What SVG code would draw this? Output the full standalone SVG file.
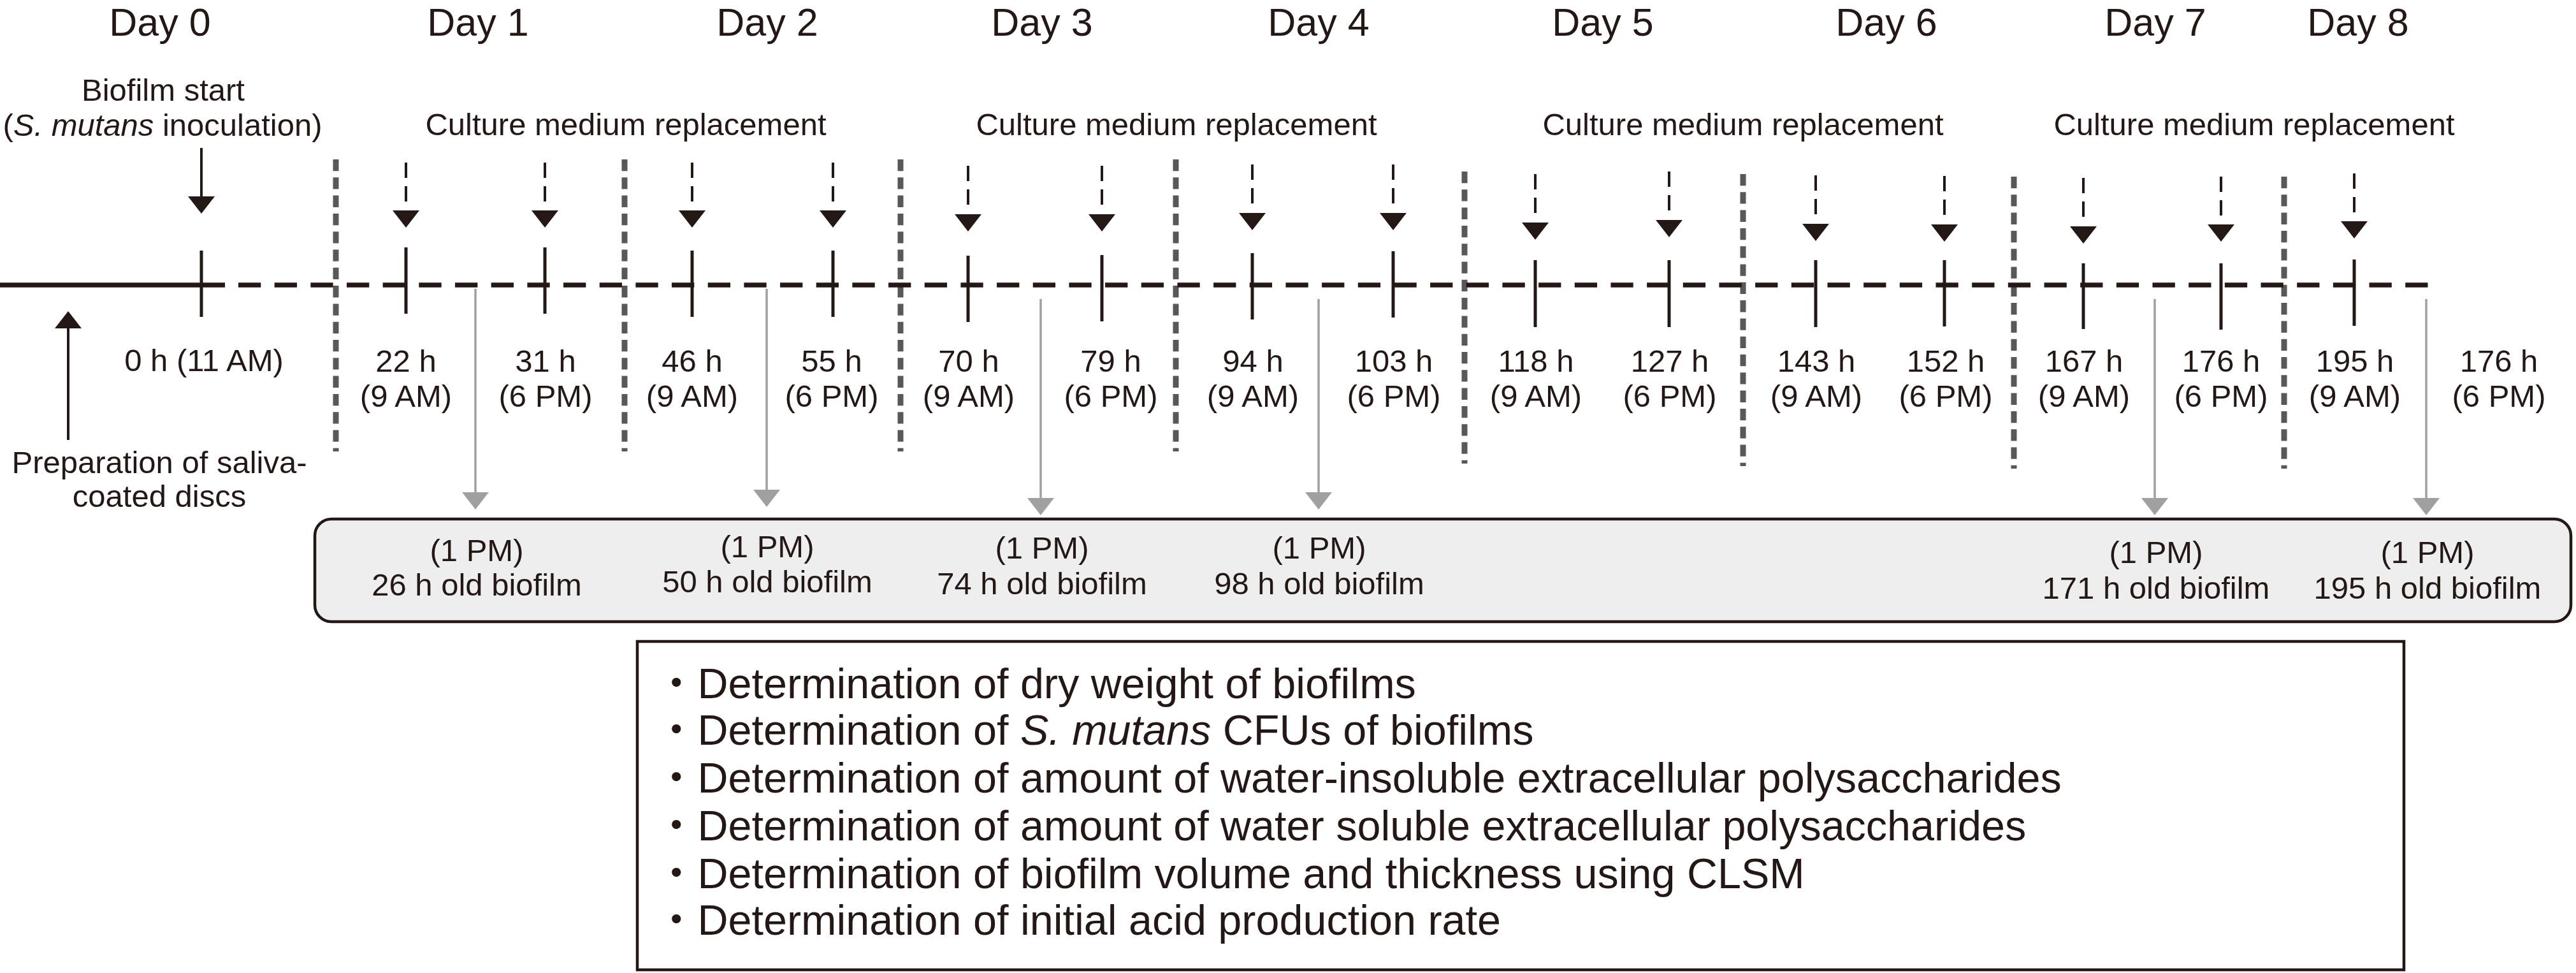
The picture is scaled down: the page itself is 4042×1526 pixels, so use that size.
<svg xmlns="http://www.w3.org/2000/svg" xmlns:xlink="http://www.w3.org/1999/xlink" width="4042" height="1526" viewBox="0 0 4042 1526">
<style>
.t{font-family:"Liberation Sans",Arial,"Noto Sans CJK JP",sans-serif;fill:#231815}
.day{font-size:61px;text-anchor:middle}
.lbl{font-size:49px;text-anchor:middle}
.lst{font-size:66.5px}
.it{font-style:italic}
.tick{stroke:#231815;stroke-width:5}
.sep{stroke:#595757;stroke-width:9;stroke-dasharray:18.3 10}
.rep{stroke:#231815;stroke-width:4;stroke-dasharray:24 13}
.solid{stroke:#231815;stroke-width:4}
.gray{stroke:#9fa0a0;stroke-width:3.5}
.main{stroke:#231815;stroke-width:7.5}
</style>
<defs>
<path id="hb" d="M-21,0 L21,0 L0,27 Z" fill="#231815"/>
<path id="hu" d="M-21,0 L21,0 L0,-27 Z" fill="#231815"/>
<path id="hg" d="M-21,0 L21,0 L0,27 Z" fill="#9fa0a0"/>
</defs>
<rect width="4042" height="1526" fill="#ffffff"/>

<g id="days" class="t day">
<text x="251" y="56">Day 0</text>
<text x="750" y="56">Day 1</text>
<text x="1204" y="56">Day 2</text>
<text x="1635" y="56">Day 3</text>
<text x="2069" y="56">Day 4</text>
<text x="2515" y="56">Day 5</text>
<text x="2960" y="56">Day 6</text>
<text x="3382" y="56">Day 7</text>
<text x="3700" y="56">Day 8</text>
</g>

<g id="biofilm-start" class="t lbl">
<text x="256" y="158">Biofilm start</text>
<text x="255" y="213">(<tspan class="it">S. mutans</tspan> inoculation)</text>
</g>

<g id="replacement-labels" class="t lbl">
<text x="982" y="212">Culture medium replacement</text>
<text x="1846" y="212">Culture medium replacement</text>
<text x="2735" y="212">Culture medium replacement</text>
<text x="3537" y="212">Culture medium replacement</text>
</g>

<g id="preparation" class="t lbl">
<text x="250" y="742">Preparation of saliva-</text>
<text x="250" y="795">coated discs</text>
</g>

<g id="time-labels" class="t lbl">
<text x="320" y="582">0 h (11 AM)</text>
<text x="637" y="583">22 h</text><text x="637" y="638">(9 AM)</text>
<text x="856" y="583">31 h</text><text x="856" y="638">(6 PM)</text>
<text x="1086" y="583">46 h</text><text x="1086" y="638">(9 AM)</text>
<text x="1305" y="583">55 h</text><text x="1305" y="638">(6 PM)</text>
<text x="1520" y="583">70 h</text><text x="1520" y="638">(9 AM)</text>
<text x="1743" y="583">79 h</text><text x="1743" y="638">(6 PM)</text>
<text x="1966" y="583">94 h</text><text x="1966" y="638">(9 AM)</text>
<text x="2187" y="583">103 h</text><text x="2187" y="638">(6 PM)</text>
<text x="2410" y="583">118 h</text><text x="2410" y="638">(9 AM)</text>
<text x="2620" y="583">127 h</text><text x="2620" y="638">(6 PM)</text>
<text x="2850" y="583">143 h</text><text x="2850" y="638">(9 AM)</text>
<text x="3053" y="583">152 h</text><text x="3053" y="638">(6 PM)</text>
<text x="3270" y="583">167 h</text><text x="3270" y="638">(9 AM)</text>
<text x="3485" y="583">176 h</text><text x="3485" y="638">(6 PM)</text>
<text x="3695" y="583">195 h</text><text x="3695" y="638">(9 AM)</text>
<text x="3921" y="583">176 h</text><text x="3921" y="638">(6 PM)</text>
</g>

<g id="sampling-box">
<rect x="494" y="814" width="3540" height="161" rx="26" fill="#eeeeee" stroke="#231815" stroke-width="4.5"/>
<g class="t lbl">
<text x="748" y="880">(1 PM)</text><text x="748" y="934">26 h old biofilm</text>
<text x="1204" y="874">(1 PM)</text><text x="1204" y="929">50 h old biofilm</text>
<text x="1635" y="876">(1 PM)</text><text x="1635" y="932">74 h old biofilm</text>
<text x="2070" y="876">(1 PM)</text><text x="2070" y="932">98 h old biofilm</text>
<text x="3383" y="883">(1 PM)</text><text x="3383" y="939">171 h old biofilm</text>
<text x="3809" y="883">(1 PM)</text><text x="3809" y="939">195 h old biofilm</text>
</g>
</g>

<g id="analysis-box">
<rect x="1000" y="1006" width="2772" height="515" fill="#ffffff" stroke="#231815" stroke-width="4.5"/>
<g class="t lst">
<text x="1028" y="1095">・Determination of dry weight of biofilms</text>
<text x="1028" y="1168">・Determination of <tspan class="it">S. mutans</tspan> CFUs of biofilms</text>
<text x="1028" y="1243">・Determination of amount of water-insoluble extracellular polysaccharides</text>
<text x="1028" y="1318">・Determination of amount of water soluble extracellular polysaccharides</text>
<text x="1028" y="1393">・Determination of biofilm volume and thickness using CLSM</text>
<text x="1028" y="1466">・Determination of initial acid production rate</text>
</g>
</g>

<g id="connectors">
<line class="sep" x1="527" y1="250" x2="527" y2="708"/>
<line class="sep" x1="980" y1="250" x2="980" y2="708"/>
<line class="sep" x1="1413" y1="250" x2="1413" y2="708"/>
<line class="sep" x1="1845" y1="250" x2="1845" y2="708"/>
<line class="sep" x1="2298" y1="269" x2="2298" y2="727"/>
<line class="sep" x1="2735" y1="273" x2="2735" y2="731"/>
<line class="sep" x1="3160" y1="277" x2="3160" y2="735"/>
<line class="sep" x1="3584" y1="277" x2="3584" y2="735"/>

<line class="main" x1="0" y1="447" x2="353" y2="447"/>
<line class="main" x1="374" y1="447" x2="3812" y2="447" stroke-dasharray="35.3 21.37"/>

<line class="tick" x1="316" y1="393" x2="316" y2="497"/>
<line class="tick" x1="637" y1="388" x2="637" y2="492"/>
<line class="tick" x1="855" y1="388" x2="855" y2="492"/>
<line class="tick" x1="1086" y1="393" x2="1086" y2="497"/>
<line class="tick" x1="1307" y1="393" x2="1307" y2="497"/>
<line class="tick" x1="1519" y1="401" x2="1519" y2="505"/>
<line class="tick" x1="1729" y1="400" x2="1729" y2="504"/>
<line class="tick" x1="1965" y1="397" x2="1965" y2="501"/>
<line class="tick" x1="2186" y1="394" x2="2186" y2="498"/>
<line class="tick" x1="2409" y1="408" x2="2409" y2="513"/>
<line class="tick" x1="2619" y1="408" x2="2619" y2="513"/>
<line class="tick" x1="2849" y1="408" x2="2849" y2="513"/>
<line class="tick" x1="3051" y1="408" x2="3051" y2="512"/>
<line class="tick" x1="3269" y1="413" x2="3269" y2="516"/>
<line class="tick" x1="3485" y1="413" x2="3485" y2="517"/>
<line class="tick" x1="3694" y1="407" x2="3694" y2="511"/>

<line class="solid" x1="316" y1="232" x2="316" y2="310"/>
<use href="#hb" x="316" y="308"/>

<line class="solid" x1="107" y1="690" x2="107" y2="511"/>
<use href="#hu" x="107" y="515"/>

<line class="rep" x1="637" y1="255" x2="637" y2="316"/><use href="#hb" x="637" y="330"/>
<line class="rep" x1="855" y1="255" x2="855" y2="316"/><use href="#hb" x="855" y="330"/>
<line class="rep" x1="1086" y1="255" x2="1086" y2="316"/><use href="#hb" x="1086" y="330"/>
<line class="rep" x1="1307" y1="255" x2="1307" y2="316"/><use href="#hb" x="1307" y="330"/>
<line class="rep" x1="1519" y1="260" x2="1519" y2="321"/><use href="#hb" x="1519" y="336"/>
<line class="rep" x1="1729" y1="260" x2="1729" y2="321"/><use href="#hb" x="1729" y="336"/>
<line class="rep" x1="1965" y1="258" x2="1965" y2="319"/><use href="#hb" x="1965" y="334"/>
<line class="rep" x1="2186" y1="258" x2="2186" y2="319"/><use href="#hb" x="2186" y="334"/>
<line class="rep" x1="2409" y1="273" x2="2409" y2="334"/><use href="#hb" x="2409" y="349"/>
<line class="rep" x1="2619" y1="269" x2="2619" y2="330"/><use href="#hb" x="2619" y="345"/>
<line class="rep" x1="2849" y1="275" x2="2849" y2="336"/><use href="#hb" x="2849" y="351"/>
<line class="rep" x1="3051" y1="276" x2="3051" y2="337"/><use href="#hb" x="3051" y="352"/>
<line class="rep" x1="3269" y1="279" x2="3269" y2="340"/><use href="#hb" x="3269" y="355"/>
<line class="rep" x1="3485" y1="277" x2="3485" y2="338"/><use href="#hb" x="3485" y="352"/>
<line class="rep" x1="3694" y1="272" x2="3694" y2="333"/><use href="#hb" x="3694" y="347"/>

<line class="gray" x1="746" y1="453" x2="746" y2="774"/><use href="#hg" x="746" y="772"/>
<line class="gray" x1="1203" y1="453" x2="1203" y2="770"/><use href="#hg" x="1203" y="768"/>
<line class="gray" x1="1633" y1="469" x2="1633" y2="783"/><use href="#hg" x="1633" y="781"/>
<line class="gray" x1="2069" y1="469" x2="2069" y2="774"/><use href="#hg" x="2069" y="772"/>
<line class="gray" x1="3381" y1="469" x2="3381" y2="783"/><use href="#hg" x="3381" y="781"/>
<line class="gray" x1="3807" y1="469" x2="3807" y2="783"/><use href="#hg" x="3807" y="781"/>
</g>
</svg>
